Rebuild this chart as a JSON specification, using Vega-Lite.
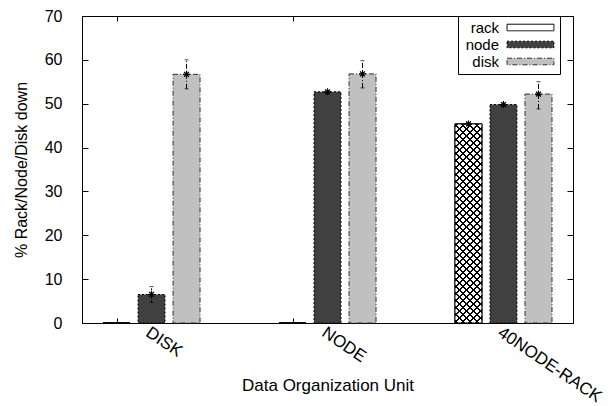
{
  "$schema": "https://vega.github.io/schema/vega-lite/v6.json",
  "width": 491,
  "height": 307,
  "autosize": "none",
  "padding": {"left": 82, "top": 16, "right": 41, "bottom": 83},
  "background": "white",
  "config": {
    "view": {"stroke": "black", "strokeWidth": 1},
    "font": "Liberation Sans",
    "axis": {
      "labelFont": "Liberation Sans", "titleFont": "Liberation Sans",
      "labelFontSize": 16, "titleFontSize": 16, "titleFontWeight": "normal",
      "labelColor": "black", "titleColor": "black",
      "domainColor": "black", "tickColor": "black", "grid": false
    },
    "legend": {
      "orient": "none", "legendX": 376, "legendY": 0,
      "symbolType": "M-5,-0.7H5V0.7H-5Z",
      "symbolSize": 88,
      "symbolStrokeColor": "black", "symbolStrokeWidth": 1,
      "labelFont": "Liberation Sans", "labelFontSize": 15, "labelColor": "black",
      "labelAlign": "right", "symbolOffset": 61, "labelOffset": -39,
      "strokeColor": "black", "fillColor": "white", "padding": 4, "rowPadding": 1
    }
  },
  "data": {"values": [
    {"unit": "DISK", "series": "rack", "value": 0, "lo": 0, "hi": 0},
    {"unit": "DISK", "series": "node", "value": 6.5, "lo": 4.7, "hi": 8.3},
    {"unit": "DISK", "series": "disk", "value": 56.7, "lo": 53.4, "hi": 60.0},
    {"unit": "NODE", "series": "rack", "value": 0, "lo": 0, "hi": 0},
    {"unit": "NODE", "series": "node", "value": 52.7, "lo": 52.4, "hi": 53.0},
    {"unit": "NODE", "series": "disk", "value": 56.8, "lo": 53.6, "hi": 59.8},
    {"unit": "40NODE-RACK", "series": "rack", "value": 45.4, "lo": 45.2, "hi": 45.6},
    {"unit": "40NODE-RACK", "series": "node", "value": 49.8, "lo": 49.5, "hi": 50.1},
    {"unit": "40NODE-RACK", "series": "disk", "value": 52.2, "lo": 48.8, "hi": 55.0}
  ]},
  "resolve": {"axis": {"x": "independent", "y": "independent"}},
  "layer": [
    {
      "mark": {"type": "bar", "strokeWidth": 1},
      "encoding": {
        "x": {"field": "unit", "type": "nominal",
          "scale": {"domain": ["DISK", "NODE", "40NODE-RACK"], "paddingInner": 0.403, "paddingOuter": 0.0966},
          "axis": {"orient": "bottom", "title": "Data Organization Unit", "labelAngle": 34, "labelAlign": "left", "labelBaseline": "top",
            "labelPadding": 6, "tickSize": -5, "tickOffset": -34.5, "labelOffset": 34.5, "labelFontSize": 17,
            "titleX": 245.5, "titleY": 67.7, "titleBaseline": "alphabetic", "titleFontSize": 17}},
        "xOffset": {"field": "series", "type": "nominal",
          "scale": {"domain": ["rack", "node", "disk"], "paddingInner": 0.229, "paddingOuter": 0.1145}},
        "y": {"field": "value", "type": "quantitative",
          "scale": {"domain": [0, 70], "nice": false},
          "axis": {"title": "% Rack/Node/Disk down", "values": [0, 10, 20, 30, 40, 50, 60, 70], "tickSize": -6, "labelPadding": 26,
            "titleX": -55.3, "titleY": 153.5, "titleBaseline": "alphabetic", "titleAngle": 270}},
        "fill": {"field": "series", "type": "nominal",
          "scale": {"domain": ["rack", "node", "disk"], "range": ["white", "#404040", "#c0c0c0"]},
          "legend": {"title": null}},
        "stroke": {"field": "series", "type": "nominal",
          "scale": {"domain": ["rack", "node", "disk"], "range": ["black", "black", "#303030"]},
          "legend": {"title": null}},
        "strokeDash": {"field": "series", "type": "nominal",
          "scale": {"domain": ["rack", "node", "disk"], "range": [[1, 0], [2, 2], [5, 2, 1, 2]]},
          "legend": {"title": null}}
      }
    },
    {
      "transform": [{"filter": "datum.series === 'rack'"}],
      "mark": {"type": "bar", "strokeWidth": 0,
        "fill": {"gradient": "linear", "x1": 0, "y1": 0, "x2": 0.1627, "y2": 1.2, "stops": [
          {"offset": 0, "color": "white"},
          {"offset": 0.0080, "color": "white"}, {"offset": 0.0080, "color": "black"}, {"offset": 0.0140, "color": "black"}, {"offset": 0.0140, "color": "white"},
          {"offset": 0.0368, "color": "white"}, {"offset": 0.0368, "color": "black"}, {"offset": 0.0428, "color": "black"}, {"offset": 0.0428, "color": "white"},
          {"offset": 0.0655, "color": "white"}, {"offset": 0.0655, "color": "black"}, {"offset": 0.0715, "color": "black"}, {"offset": 0.0715, "color": "white"},
          {"offset": 0.0943, "color": "white"}, {"offset": 0.0943, "color": "black"}, {"offset": 0.1003, "color": "black"}, {"offset": 0.1003, "color": "white"},
          {"offset": 0.1231, "color": "white"}, {"offset": 0.1231, "color": "black"}, {"offset": 0.1291, "color": "black"}, {"offset": 0.1291, "color": "white"},
          {"offset": 0.1519, "color": "white"}, {"offset": 0.1519, "color": "black"}, {"offset": 0.1579, "color": "black"}, {"offset": 0.1579, "color": "white"},
          {"offset": 0.1806, "color": "white"}, {"offset": 0.1806, "color": "black"}, {"offset": 0.1866, "color": "black"}, {"offset": 0.1866, "color": "white"},
          {"offset": 0.2094, "color": "white"}, {"offset": 0.2094, "color": "black"}, {"offset": 0.2154, "color": "black"}, {"offset": 0.2154, "color": "white"},
          {"offset": 0.2382, "color": "white"}, {"offset": 0.2382, "color": "black"}, {"offset": 0.2442, "color": "black"}, {"offset": 0.2442, "color": "white"},
          {"offset": 0.2669, "color": "white"}, {"offset": 0.2669, "color": "black"}, {"offset": 0.2729, "color": "black"}, {"offset": 0.2729, "color": "white"},
          {"offset": 0.2957, "color": "white"}, {"offset": 0.2957, "color": "black"}, {"offset": 0.3017, "color": "black"}, {"offset": 0.3017, "color": "white"},
          {"offset": 0.3245, "color": "white"}, {"offset": 0.3245, "color": "black"}, {"offset": 0.3305, "color": "black"}, {"offset": 0.3305, "color": "white"},
          {"offset": 0.3532, "color": "white"}, {"offset": 0.3532, "color": "black"}, {"offset": 0.3592, "color": "black"}, {"offset": 0.3592, "color": "white"},
          {"offset": 0.3820, "color": "white"}, {"offset": 0.3820, "color": "black"}, {"offset": 0.3880, "color": "black"}, {"offset": 0.3880, "color": "white"},
          {"offset": 0.4108, "color": "white"}, {"offset": 0.4108, "color": "black"}, {"offset": 0.4168, "color": "black"}, {"offset": 0.4168, "color": "white"},
          {"offset": 0.4396, "color": "white"}, {"offset": 0.4396, "color": "black"}, {"offset": 0.4456, "color": "black"}, {"offset": 0.4456, "color": "white"},
          {"offset": 0.4683, "color": "white"}, {"offset": 0.4683, "color": "black"}, {"offset": 0.4743, "color": "black"}, {"offset": 0.4743, "color": "white"},
          {"offset": 0.4971, "color": "white"}, {"offset": 0.4971, "color": "black"}, {"offset": 0.5031, "color": "black"}, {"offset": 0.5031, "color": "white"},
          {"offset": 0.5259, "color": "white"}, {"offset": 0.5259, "color": "black"}, {"offset": 0.5319, "color": "black"}, {"offset": 0.5319, "color": "white"},
          {"offset": 0.5546, "color": "white"}, {"offset": 0.5546, "color": "black"}, {"offset": 0.5606, "color": "black"}, {"offset": 0.5606, "color": "white"},
          {"offset": 0.5834, "color": "white"}, {"offset": 0.5834, "color": "black"}, {"offset": 0.5894, "color": "black"}, {"offset": 0.5894, "color": "white"},
          {"offset": 0.6122, "color": "white"}, {"offset": 0.6122, "color": "black"}, {"offset": 0.6182, "color": "black"}, {"offset": 0.6182, "color": "white"},
          {"offset": 0.6409, "color": "white"}, {"offset": 0.6409, "color": "black"}, {"offset": 0.6469, "color": "black"}, {"offset": 0.6469, "color": "white"},
          {"offset": 0.6697, "color": "white"}, {"offset": 0.6697, "color": "black"}, {"offset": 0.6757, "color": "black"}, {"offset": 0.6757, "color": "white"},
          {"offset": 0.6985, "color": "white"}, {"offset": 0.6985, "color": "black"}, {"offset": 0.7045, "color": "black"}, {"offset": 0.7045, "color": "white"},
          {"offset": 0.7273, "color": "white"}, {"offset": 0.7273, "color": "black"}, {"offset": 0.7333, "color": "black"}, {"offset": 0.7333, "color": "white"},
          {"offset": 0.7560, "color": "white"}, {"offset": 0.7560, "color": "black"}, {"offset": 0.7620, "color": "black"}, {"offset": 0.7620, "color": "white"},
          {"offset": 0.7848, "color": "white"}, {"offset": 0.7848, "color": "black"}, {"offset": 0.7908, "color": "black"}, {"offset": 0.7908, "color": "white"},
          {"offset": 0.8136, "color": "white"}, {"offset": 0.8136, "color": "black"}, {"offset": 0.8196, "color": "black"}, {"offset": 0.8196, "color": "white"},
          {"offset": 0.8423, "color": "white"}, {"offset": 0.8423, "color": "black"}, {"offset": 0.8483, "color": "black"}, {"offset": 0.8483, "color": "white"},
          {"offset": 0.8711, "color": "white"}, {"offset": 0.8711, "color": "black"}, {"offset": 0.8771, "color": "black"}, {"offset": 0.8771, "color": "white"},
          {"offset": 0.8999, "color": "white"}, {"offset": 0.8999, "color": "black"}, {"offset": 0.9059, "color": "black"}, {"offset": 0.9059, "color": "white"},
          {"offset": 0.9286, "color": "white"}, {"offset": 0.9286, "color": "black"}, {"offset": 0.9346, "color": "black"}, {"offset": 0.9346, "color": "white"},
          {"offset": 1, "color": "white"}
        ]}},
      "encoding": {
        "x": {"field": "unit", "type": "nominal", "scale": {"domain": ["DISK", "NODE", "40NODE-RACK"]},
          "axis": {"orient": "top", "labels": false, "title": null, "domain": false, "tickSize": -5, "tickOffset": -34.5}},
        "xOffset": {"field": "series", "type": "nominal", "scale": {"domain": ["rack", "node", "disk"]}},
        "y": {"field": "value", "type": "quantitative",
          "axis": {"orient": "right", "labels": false, "title": null, "domain": false, "values": [0, 10, 20, 30, 40, 50, 60, 70], "tickSize": -6}}
      }
    },
    {
      "transform": [{"filter": "datum.series === 'rack'"}],
      "mark": {"type": "bar", "stroke": "black", "strokeWidth": 1,
        "fill": {"gradient": "linear", "x1": 0, "y1": 1, "x2": 0.1627, "y2": -0.2, "stops": [
          {"offset": 0, "color": "transparent"},
          {"offset": 0.0080, "color": "transparent"}, {"offset": 0.0080, "color": "black"}, {"offset": 0.0140, "color": "black"}, {"offset": 0.0140, "color": "transparent"},
          {"offset": 0.0368, "color": "transparent"}, {"offset": 0.0368, "color": "black"}, {"offset": 0.0428, "color": "black"}, {"offset": 0.0428, "color": "transparent"},
          {"offset": 0.0655, "color": "transparent"}, {"offset": 0.0655, "color": "black"}, {"offset": 0.0715, "color": "black"}, {"offset": 0.0715, "color": "transparent"},
          {"offset": 0.0943, "color": "transparent"}, {"offset": 0.0943, "color": "black"}, {"offset": 0.1003, "color": "black"}, {"offset": 0.1003, "color": "transparent"},
          {"offset": 0.1231, "color": "transparent"}, {"offset": 0.1231, "color": "black"}, {"offset": 0.1291, "color": "black"}, {"offset": 0.1291, "color": "transparent"},
          {"offset": 0.1519, "color": "transparent"}, {"offset": 0.1519, "color": "black"}, {"offset": 0.1579, "color": "black"}, {"offset": 0.1579, "color": "transparent"},
          {"offset": 0.1806, "color": "transparent"}, {"offset": 0.1806, "color": "black"}, {"offset": 0.1866, "color": "black"}, {"offset": 0.1866, "color": "transparent"},
          {"offset": 0.2094, "color": "transparent"}, {"offset": 0.2094, "color": "black"}, {"offset": 0.2154, "color": "black"}, {"offset": 0.2154, "color": "transparent"},
          {"offset": 0.2382, "color": "transparent"}, {"offset": 0.2382, "color": "black"}, {"offset": 0.2442, "color": "black"}, {"offset": 0.2442, "color": "transparent"},
          {"offset": 0.2669, "color": "transparent"}, {"offset": 0.2669, "color": "black"}, {"offset": 0.2729, "color": "black"}, {"offset": 0.2729, "color": "transparent"},
          {"offset": 0.2957, "color": "transparent"}, {"offset": 0.2957, "color": "black"}, {"offset": 0.3017, "color": "black"}, {"offset": 0.3017, "color": "transparent"},
          {"offset": 0.3245, "color": "transparent"}, {"offset": 0.3245, "color": "black"}, {"offset": 0.3305, "color": "black"}, {"offset": 0.3305, "color": "transparent"},
          {"offset": 0.3532, "color": "transparent"}, {"offset": 0.3532, "color": "black"}, {"offset": 0.3592, "color": "black"}, {"offset": 0.3592, "color": "transparent"},
          {"offset": 0.3820, "color": "transparent"}, {"offset": 0.3820, "color": "black"}, {"offset": 0.3880, "color": "black"}, {"offset": 0.3880, "color": "transparent"},
          {"offset": 0.4108, "color": "transparent"}, {"offset": 0.4108, "color": "black"}, {"offset": 0.4168, "color": "black"}, {"offset": 0.4168, "color": "transparent"},
          {"offset": 0.4396, "color": "transparent"}, {"offset": 0.4396, "color": "black"}, {"offset": 0.4456, "color": "black"}, {"offset": 0.4456, "color": "transparent"},
          {"offset": 0.4683, "color": "transparent"}, {"offset": 0.4683, "color": "black"}, {"offset": 0.4743, "color": "black"}, {"offset": 0.4743, "color": "transparent"},
          {"offset": 0.4971, "color": "transparent"}, {"offset": 0.4971, "color": "black"}, {"offset": 0.5031, "color": "black"}, {"offset": 0.5031, "color": "transparent"},
          {"offset": 0.5259, "color": "transparent"}, {"offset": 0.5259, "color": "black"}, {"offset": 0.5319, "color": "black"}, {"offset": 0.5319, "color": "transparent"},
          {"offset": 0.5546, "color": "transparent"}, {"offset": 0.5546, "color": "black"}, {"offset": 0.5606, "color": "black"}, {"offset": 0.5606, "color": "transparent"},
          {"offset": 0.5834, "color": "transparent"}, {"offset": 0.5834, "color": "black"}, {"offset": 0.5894, "color": "black"}, {"offset": 0.5894, "color": "transparent"},
          {"offset": 0.6122, "color": "transparent"}, {"offset": 0.6122, "color": "black"}, {"offset": 0.6182, "color": "black"}, {"offset": 0.6182, "color": "transparent"},
          {"offset": 0.6409, "color": "transparent"}, {"offset": 0.6409, "color": "black"}, {"offset": 0.6469, "color": "black"}, {"offset": 0.6469, "color": "transparent"},
          {"offset": 0.6697, "color": "transparent"}, {"offset": 0.6697, "color": "black"}, {"offset": 0.6757, "color": "black"}, {"offset": 0.6757, "color": "transparent"},
          {"offset": 0.6985, "color": "transparent"}, {"offset": 0.6985, "color": "black"}, {"offset": 0.7045, "color": "black"}, {"offset": 0.7045, "color": "transparent"},
          {"offset": 0.7273, "color": "transparent"}, {"offset": 0.7273, "color": "black"}, {"offset": 0.7333, "color": "black"}, {"offset": 0.7333, "color": "transparent"},
          {"offset": 0.7560, "color": "transparent"}, {"offset": 0.7560, "color": "black"}, {"offset": 0.7620, "color": "black"}, {"offset": 0.7620, "color": "transparent"},
          {"offset": 0.7848, "color": "transparent"}, {"offset": 0.7848, "color": "black"}, {"offset": 0.7908, "color": "black"}, {"offset": 0.7908, "color": "transparent"},
          {"offset": 0.8136, "color": "transparent"}, {"offset": 0.8136, "color": "black"}, {"offset": 0.8196, "color": "black"}, {"offset": 0.8196, "color": "transparent"},
          {"offset": 0.8423, "color": "transparent"}, {"offset": 0.8423, "color": "black"}, {"offset": 0.8483, "color": "black"}, {"offset": 0.8483, "color": "transparent"},
          {"offset": 0.8711, "color": "transparent"}, {"offset": 0.8711, "color": "black"}, {"offset": 0.8771, "color": "black"}, {"offset": 0.8771, "color": "transparent"},
          {"offset": 0.8999, "color": "transparent"}, {"offset": 0.8999, "color": "black"}, {"offset": 0.9059, "color": "black"}, {"offset": 0.9059, "color": "transparent"},
          {"offset": 0.9286, "color": "transparent"}, {"offset": 0.9286, "color": "black"}, {"offset": 0.9346, "color": "black"}, {"offset": 0.9346, "color": "transparent"},
          {"offset": 1, "color": "transparent"}
        ]}},
      "encoding": {
        "x": {"field": "unit", "type": "nominal", "scale": {"domain": ["DISK", "NODE", "40NODE-RACK"]}, "axis": null},
        "xOffset": {"field": "series", "type": "nominal", "scale": {"domain": ["rack", "node", "disk"]}},
        "y": {"field": "value", "type": "quantitative", "axis": null}
      }
    },
    {
      "transform": [{"filter": "datum.value > 0"}],
      "mark": {"type": "rule", "color": "black", "strokeWidth": 1},
      "encoding": {
        "x": {"field": "unit", "type": "nominal", "scale": {"domain": ["DISK", "NODE", "40NODE-RACK"]}, "axis": null},
        "xOffset": {"field": "series", "type": "nominal", "scale": {"domain": ["rack", "node", "disk"]}},
        "y": {"field": "lo", "type": "quantitative", "axis": null},
        "y2": {"field": "hi"},
        "strokeDash": {"field": "series", "type": "nominal", "legend": null}
      }
    },
    {
      "transform": [{"filter": "datum.value > 0"}],
      "mark": {"type": "tick", "color": "black", "size": 4, "thickness": 1},
      "encoding": {
        "x": {"field": "unit", "type": "nominal", "scale": {"domain": ["DISK", "NODE", "40NODE-RACK"]}, "axis": null},
        "xOffset": {"field": "series", "type": "nominal", "scale": {"domain": ["rack", "node", "disk"]}},
        "y": {"field": "hi", "type": "quantitative", "axis": null}
      }
    },
    {
      "transform": [{"filter": "datum.value > 0"}],
      "mark": {"type": "tick", "color": "black", "size": 4, "thickness": 1},
      "encoding": {
        "x": {"field": "unit", "type": "nominal", "scale": {"domain": ["DISK", "NODE", "40NODE-RACK"]}, "axis": null},
        "xOffset": {"field": "series", "type": "nominal", "scale": {"domain": ["rack", "node", "disk"]}},
        "y": {"field": "lo", "type": "quantitative", "axis": null}
      }
    },
    {
      "transform": [{"filter": "datum.value > 0"}],
      "mark": {"type": "point", "shape": "M-1,0H1M0,-1V1M-0.7,-0.7L0.7,0.7M-0.7,0.7L0.7,-0.7", "filled": false, "stroke": "black", "strokeWidth": 1.2, "size": 49, "opacity": 1},
      "encoding": {
        "x": {"field": "unit", "type": "nominal", "scale": {"domain": ["DISK", "NODE", "40NODE-RACK"]}, "axis": null},
        "xOffset": {"field": "series", "type": "nominal", "scale": {"domain": ["rack", "node", "disk"]}},
        "y": {"field": "value", "type": "quantitative", "axis": null}
      }
    }
  ]
}
